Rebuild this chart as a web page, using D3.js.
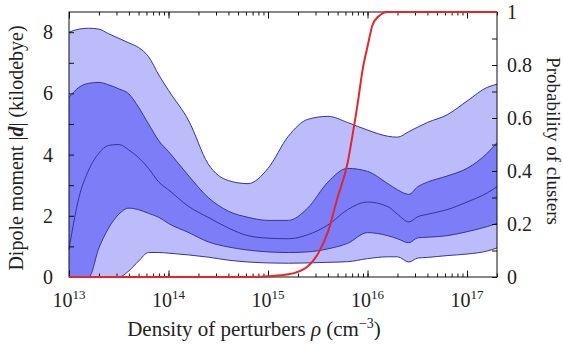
<!DOCTYPE html>
<html>
<head>
<meta charset="utf-8">
<script src="https://cdn.jsdelivr.net/npm/d3@7"></script>
</head>
<body style="margin:0">
<svg width="563" height="345"></svg>
<script>
// density grid (cm^-3) shared by the dipole bands
var density = [1e13, 1.26e13, 1.58e13, 2e13, 2.5e13, 3.16e13, 4e13, 5e13, 6.3e13, 8e13,
  1e14, 1.6e14, 2.5e14, 4e14, 6.3e14, 1e15, 1.6e15, 2.5e15, 4e15, 6.3e15,
  1e16, 1.6e16, 2e16, 2.6e16, 3.2e16, 4e16, 6.3e16, 1e17, 1.6e17, 2e17];

// dipole moment quantiles (kilodebye)
var outerUpper = [8.0, 8.1, 8.13, 8.1, 7.95, 7.8, 7.65, 7.5, 7.2, 6.6,
  6.1, 5.1, 3.7, 3.15, 3.05, 3.55, 4.6, 5.15, 5.25, 5.05,
  4.8, 4.6, 4.57, 4.75, 4.9, 5.05, 5.3, 5.75, 6.2, 6.3];
var innerUpper = [5.87, 6.2, 6.33, 6.36, 6.28, 6.15, 5.98, 5.55, 5.0, 4.45,
  4.1, 3.3, 2.6, 2.15, 1.95, 1.85, 1.85, 2.25, 3.1, 3.55,
  3.45, 3.05, 2.85, 2.7, 2.95, 3.1, 3.3, 3.55, 4.05, 4.39];
var median = [0.9, 2.6, 3.5, 4.05, 4.3, 4.33, 4.15, 3.9, 3.55, 3.1,
  2.85, 2.3, 1.95, 1.6, 1.35, 1.27, 1.25, 1.38, 1.7, 2.2,
  2.45, 2.3, 2.05, 1.8, 1.97, 2.05, 2.2, 2.45, 2.75, 2.95];
var innerLower = [0, 0, 0, 0.95, 1.6, 2.05, 2.25, 2.2, 2.08, 1.95,
  1.75, 1.45, 1.15, 0.98, 0.88, 0.82, 0.8, 0.82, 0.92, 1.1,
  1.45, 1.35, 1.25, 1.12, 1.28, 1.3, 1.35, 1.48, 1.65, 1.75];
var outerLower = [0, 0, 0, 0, 0, 0, 0.2, 0.52, 0.8, 0.8,
  0.78, 0.72, 0.65, 0.55, 0.49, 0.46, 0.45, 0.46, 0.48, 0.5,
  0.6, 0.66, 0.66, 0.49, 0.62, 0.64, 0.7, 0.75, 0.85, 0.95];

// probability of clusters
var probDensity = [1e13, 1e14, 6.3e14, 1e15, 1.6e15, 2.5e15, 3.2e15, 4e15, 5e15, 6.3e15,
  7.1e15, 8e15, 8.9e15, 1e16, 1.12e16, 1.26e16, 1.6e16, 2e17];
var probability = [0, 0, 0, 0.003, 0.01, 0.04, 0.09, 0.17, 0.3, 0.43,
  0.54, 0.66, 0.78, 0.87, 0.95, 0.98, 1, 1];

var yTicks = [0, 2, 4, 6, 8];
var yMinor = [1, 3, 5, 7];
var pTicks = [0, 0.2, 0.4, 0.6, 0.8, 1];
var pMinor = [0.1, 0.3, 0.5, 0.7, 0.9];
var xMajor = [1e13, 1e14, 1e15, 1e16, 1e17];

var font = "Liberation Serif";

var svg = d3.select("svg"),
  margin = {top: 12, right: 66, bottom: 68, left: 69},
  width = +svg.attr("width") - margin.left - margin.right,
  height = +svg.attr("height") - margin.top - margin.bottom,
  g = svg.append("g").attr("transform", "translate(" + margin.left + "," + margin.top + ")");

var x = d3.scaleLog().domain([1e13, 2e17]).range([0, width]);
var y = d3.scaleLinear().domain([0, 8.66]).range([height, 0]);
var p = d3.scaleLinear().domain([0, 1]).range([height, 0]);

function band(top, bottom) {
  return d3.area()
    .curve(d3.curveMonotoneX)
    .x(function(d, i) { return x(density[i]); })
    .y0(function(d, i) { return y(bottom[i]); })
    .y1(function(d, i) { return y(top[i]); });
}

var line = d3.line()
  .curve(d3.curveMonotoneX)
  .x(function(d, i) { return x(density[i]); })
  .y(function(d) { return y(d); });

g.append("path").datum(density).attr("fill", "#bcbcfb").attr("d", band(outerUpper, outerLower));
g.append("path").datum(density).attr("fill", "#7d7df7").attr("d", band(innerUpper, innerLower));

[outerUpper, innerUpper, median, innerLower, outerLower].forEach(function(s) {
  g.append("path")
    .datum(s)
    .attr("fill", "none")
    .attr("stroke", "#34349a")
    .attr("stroke-width", 1)
    .attr("d", line);
});

// axes, ticks pointing inwards
function noLabels(axis) { return axis.tickFormat(""); }

g.append("g").call(noLabels(d3.axisLeft(y).tickValues(yTicks.concat(yMinor)).tickSize(-5)).tickSizeOuter(0));
g.append("g").attr("transform", "translate(" + width + ",0)")
  .call(noLabels(d3.axisRight(p).tickValues(pTicks.concat(pMinor)).tickSize(-5)).tickSizeOuter(0));
g.append("g").attr("transform", "translate(0," + height + ")")
  .call(noLabels(d3.axisBottom(x).tickValues(x.ticks()).tickSize(-3.5)).tickSizeOuter(0));
g.append("g").attr("transform", "translate(0," + height + ")")
  .call(noLabels(d3.axisBottom(x).tickValues(xMajor).tickSize(-6.5)).tickSizeOuter(0));
g.append("g")
  .call(noLabels(d3.axisTop(x).tickValues(x.ticks()).tickSize(-3.5)).tickSizeOuter(0));
g.append("g")
  .call(noLabels(d3.axisTop(x).tickValues(xMajor).tickSize(-6.5)).tickSizeOuter(0));
g.selectAll(".domain").remove();
g.selectAll(".tick line").attr("stroke", "#111");

g.append("rect")
  .attr("width", width).attr("height", height)
  .attr("fill", "none").attr("stroke", "#111").attr("stroke-width", 1);

// probability curve
g.append("path")
  .datum(probability)
  .attr("fill", "none")
  .attr("stroke", "#e0262f")
  .attr("stroke-width", 2)
  .attr("d", d3.line()
    .curve(d3.curveMonotoneX)
    .x(function(d, i) { return x(probDensity[i]); })
    .y(function(d) { return p(d); }));

// tick labels
g.selectAll(".ylab").data(yTicks).enter().append("text")
  .attr("x", -16).attr("y", function(d) { return y(d); })
  .attr("dy", "0.35em").attr("text-anchor", "end")
  .attr("font-family", font).attr("font-size", 20).attr("fill", "#222")
  .text(function(d) { return d; });

g.selectAll(".plab").data(pTicks).enter().append("text")
  .attr("x", width + 10).attr("y", function(d) { return p(d); })
  .attr("dy", "0.35em").attr("text-anchor", "start")
  .attr("font-family", font).attr("font-size", 20).attr("fill", "#222")
  .text(function(d) { return d; });

var xl = g.selectAll(".xlab").data(xMajor).enter().append("text")
  .attr("x", function(d) { return x(d); }).attr("y", height + 30)
  .attr("text-anchor", "middle")
  .attr("font-family", font).attr("font-size", 20).attr("fill", "#222");
xl.append("tspan").text("10");
xl.append("tspan").attr("dy", -8).attr("font-size", 13)
  .text(function(d) { return Math.round(Math.log10(d)); });

// axis titles
var xt = svg.append("text")
  .attr("x", 254).attr("y", 336)
  .attr("text-anchor", "middle")
  .attr("font-family", font).attr("font-size", 21).attr("fill", "#222");
xt.append("tspan").text("Density of perturbers ");
xt.append("tspan").attr("font-style", "italic").text("ρ");
xt.append("tspan").text(" (cm");
xt.append("tspan").attr("dy", -8).attr("font-size", 14).text("−3");
xt.append("tspan").attr("dy", 8).text(")");

var yt = svg.append("text")
  .attr("transform", "translate(23,148) rotate(-90)")
  .attr("text-anchor", "middle")
  .attr("font-family", font).attr("font-size", 20).attr("fill", "#222");
yt.append("tspan").text("Dipole moment |");
yt.append("tspan").attr("font-style", "italic").attr("font-weight", "bold").text("d");
yt.append("tspan").text("| (kilodebye)");

svg.append("text")
  .attr("transform", "translate(547,141) rotate(90)")
  .attr("text-anchor", "middle")
  .attr("font-family", font).attr("font-size", 19).attr("fill", "#222")
  .text("Probability of clusters");
</script>
</body>
</html>
